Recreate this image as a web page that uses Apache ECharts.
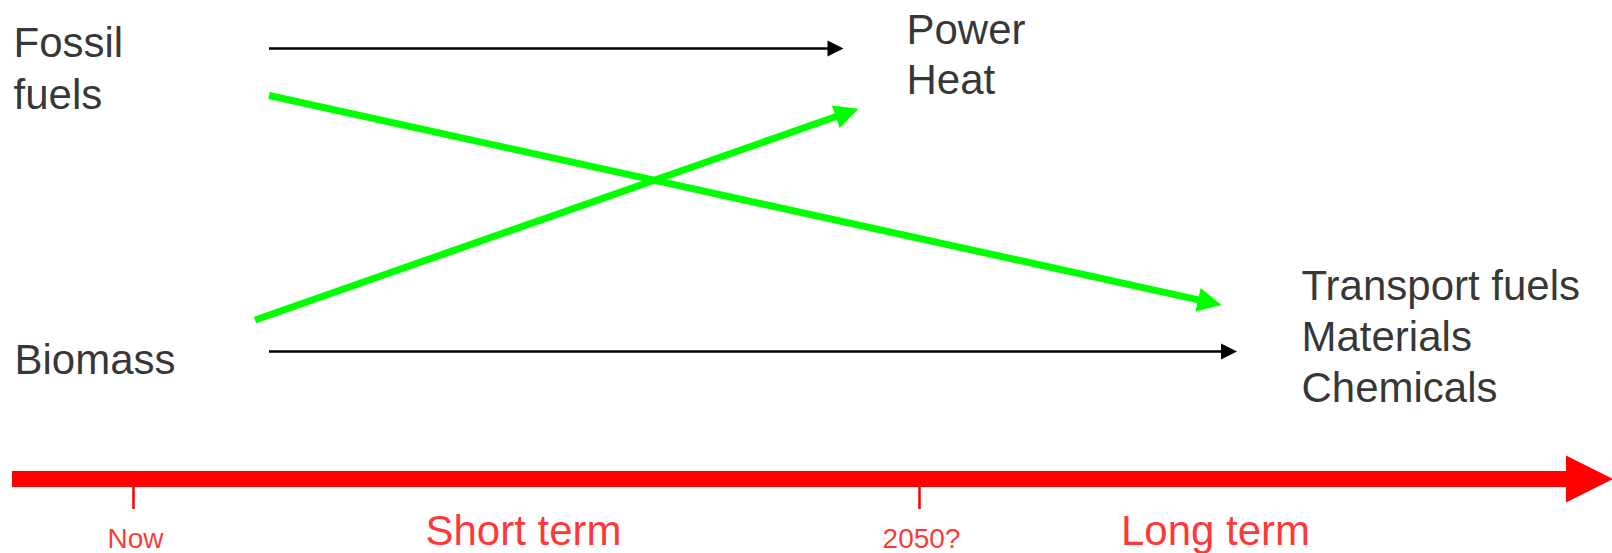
<!DOCTYPE html>
<html>
<head>
<meta charset="utf-8">
<title>Fossil fuels vs Biomass</title>
<script src="https://cdn.jsdelivr.net/npm/echarts@6/dist/echarts.min.js"></script>
<style>
  html, body { margin: 0; padding: 0; background: #ffffff; }
  #chart { width: 1612px; height: 553px; }
</style>
</head>
<body>
<div id="chart"></div>
<script>
// ---- Diagram values (on the diagram's own x / y value scales) ----
// Node text blocks
const nodeNames = ['Fossil\nfuels', 'Biomass', 'Power\nHeat', 'Transport fuels\nMaterials\nChemicals'];
const nodeX = [14, 15, 907, 1302];
const nodeY = [69, 360, 55, 337];
const nodeLineHeights = [52, 52, 50, 51];

// Current routes (black arrows)
const blackFromX = [269, 269];
const blackFromY = [48.5, 351.5];
const blackToX = [835.5, 1229];
const blackToY = [48.5, 351.5];

// Shifted routes (green arrows)
const greenFromX = [269, 255];
const greenFromY = [95.5, 320];
const greenToX = [1209.8, 847.1];
const greenToY = [302.3, 112.8];

// Timeline
const timeStartX = 12;
const timeEndX = 1589.5;
const timeY = 479;
const tickNames = ['Now', '2050?'];
const tickX = [133, 919];
const tickEndY = 509;
const tickLabelY = 539;
const periodNames = ['Short term', 'Long term'];
const periodX = [524, 1216];
const periodY = 531;

// ---- Build options ----
const FONT = "'Liberation Sans', Arial, Helvetica, sans-serif";

function arrowData(fx, fy, tx, ty) {
  return fx.map((x, i) => ({ coords: [[x, fy[i]], [tx[i], ty[i]]] }));
}

const chart = echarts.init(document.getElementById('chart'), null, { renderer: 'svg' });

const option = {
  animation: false,
  backgroundColor: '#ffffff',
  grid: { left: 0, right: 0, top: 0, bottom: 0 },
  xAxis: { type: 'value', min: 0, max: 1612, show: false },
  yAxis: { type: 'value', min: 0, max: 553, inverse: true, show: false },
  series: [
    {
      type: 'lines',
      coordinateSystem: 'cartesian2d',
      silent: true,
      z: 1,
      symbol: ['none', 'none'],
      lineStyle: { color: '#ff0000', width: 2.5, opacity: 1, curveness: 0 },
      data: tickX.map(x => ({ coords: [[x, timeY], [x, tickEndY]] }))
    },
    {
      type: 'lines',
      coordinateSystem: 'cartesian2d',
      silent: true,
      z: 2,
      symbol: ['none', 'triangle'],
      symbolSize: 47,
      lineStyle: { color: '#ff0000', width: 16, opacity: 1, curveness: 0 },
      itemStyle: { color: '#ff0000' },
      data: [{ coords: [[timeStartX, timeY], [timeEndX, timeY]] }]
    },
    {
      type: 'lines',
      coordinateSystem: 'cartesian2d',
      silent: true,
      z: 3,
      symbol: ['none', 'triangle'],
      symbolSize: 16,
      lineStyle: { color: '#000000', width: 2.5, opacity: 1, curveness: 0 },
      data: arrowData(blackFromX, blackFromY, blackToX, blackToY)
    },
    {
      type: 'lines',
      coordinateSystem: 'cartesian2d',
      silent: true,
      z: 4,
      symbol: ['none', 'triangle'],
      symbolSize: 24,
      lineStyle: { color: '#00ff00', width: 7, opacity: 1, curveness: 0 },
      data: arrowData(greenFromX, greenFromY, greenToX, greenToY)
    },
    {
      type: 'scatter',
      silent: true,
      z: 5,
      symbolSize: 1,
      itemStyle: { color: 'rgba(0,0,0,0)' },
      label: {
        show: true,
        position: [0, 0],
        align: 'left',
        verticalAlign: 'middle',
        color: '#000000',
        fontFamily: FONT,
        fontSize: 42,
        formatter: p => p.name
      },
      data: nodeNames.map((n, i) => ({
        name: n,
        value: [nodeX[i], nodeY[i]],
        label: { lineHeight: nodeLineHeights[i] }
      }))
    },
    {
      type: 'scatter',
      silent: true,
      z: 5,
      symbolSize: 1,
      itemStyle: { color: 'rgba(0,0,0,0)' },
      label: {
        show: true,
        position: [0, 0],
        align: 'center',
        verticalAlign: 'middle',
        color: '#ff0000',
        fontFamily: FONT,
        fontSize: 28,
        formatter: p => p.name
      },
      data: tickNames.map((n, i) => ({ name: n, value: [tickX[i] + 3, tickLabelY] }))
    },
    {
      type: 'scatter',
      silent: true,
      z: 5,
      symbolSize: 1,
      itemStyle: { color: 'rgba(0,0,0,0)' },
      label: {
        show: true,
        position: [0, 0],
        align: 'center',
        verticalAlign: 'middle',
        color: '#ff0000',
        fontFamily: FONT,
        fontSize: 42,
        formatter: p => p.name
      },
      data: periodNames.map((n, i) => ({ name: n, value: [periodX[i], periodY] }))
    }
  ]
};

chart.setOption(option);
</script>
</body>
</html>
